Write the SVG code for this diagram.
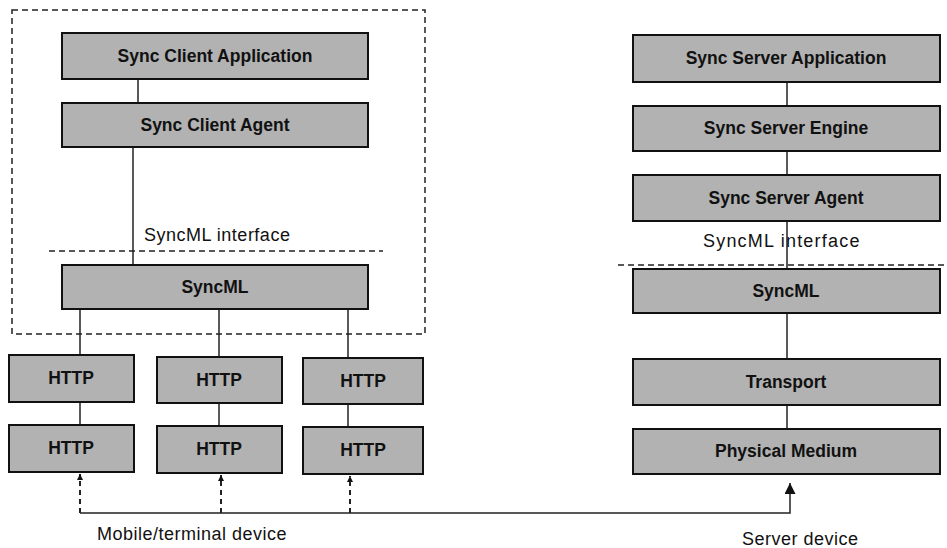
<svg xmlns="http://www.w3.org/2000/svg" width="947" height="548" viewBox="0 0 947 548">
<style>
.box{fill:#b2b2b2;stroke:#111;stroke-width:2}
.bt{font-family:"Liberation Sans",Arial,sans-serif;font-weight:bold;font-size:17.5px;fill:#111;text-anchor:middle}
.lt{font-family:"Liberation Sans",Arial,sans-serif;font-size:18px;fill:#111;letter-spacing:0.5px}
.ln{stroke:#222;stroke-width:1.5;fill:none}
.dash{stroke:#222;stroke-width:1.5;fill:none;stroke-dasharray:6 4}
.da{stroke:#222;stroke-width:2;fill:none;stroke-dasharray:5 4}
</style>
<defs>
<marker id="sa" viewBox="0 0 10 10" refX="10" refY="5" markerWidth="6" markerHeight="6" orient="auto" markerUnits="userSpaceOnUse"><path d="M0,0 L10,5 L0,10 z" fill="#111"/></marker>
<marker id="la" viewBox="0 0 10 10" refX="10" refY="5" markerWidth="11" markerHeight="11" orient="auto" markerUnits="userSpaceOnUse"><path d="M0,0 L10,5 L0,10 z" fill="#111"/></marker>
</defs>
<rect width="947" height="548" fill="#fff"/>
<rect x="12" y="10" width="413" height="324" class="dash"/>
<line x1="49" y1="251" x2="383" y2="251" class="dash"/>
<line x1="618" y1="265" x2="947" y2="265" class="dash"/>
<text class="lt" x="144" y="241">SyncML interface</text>
<text class="lt" x="703" y="247" style="letter-spacing:1.2px">SyncML interface</text>
<text class="lt" x="97" y="540">Mobile/terminal device</text>
<text class="lt" x="742" y="545">Server device</text>
<g id="connectors">
<line x1="138" y1="79" x2="138" y2="103" class="ln"/>
<line x1="133" y1="147" x2="133" y2="265" class="ln"/>
<line x1="80" y1="309" x2="80" y2="355" class="ln"/>
<line x1="219" y1="309" x2="219" y2="357" class="ln"/>
<line x1="348" y1="309" x2="348" y2="358" class="ln"/>
<line x1="80" y1="402" x2="80" y2="425" class="ln"/>
<line x1="219" y1="403" x2="219" y2="426" class="ln"/>
<line x1="348" y1="404" x2="348" y2="427" class="ln"/>
<line x1="787" y1="82" x2="787" y2="106" class="ln"/>
<line x1="787" y1="151" x2="787" y2="175" class="ln"/>
<line x1="787" y1="221" x2="787" y2="269" class="ln"/>
<line x1="787" y1="313" x2="787" y2="359" class="ln"/>
<line x1="787" y1="405" x2="787" y2="429" class="ln"/>
<polyline points="80,513 790,513 790,483" class="ln" marker-end="url(#la)"/>
<line x1="80" y1="513" x2="80" y2="474" class="da" marker-end="url(#sa)"/>
<line x1="221" y1="513" x2="221" y2="475" class="da" marker-end="url(#sa)"/>
<line x1="350" y1="513" x2="350" y2="476" class="da" marker-end="url(#sa)"/>
</g>
<g id="client-app"><rect class="box" x="62" y="33" width="306" height="46"/><text class="bt" x="215" y="62">Sync Client Application</text></g>
<g id="client-agent"><rect class="box" x="62" y="103" width="306" height="44"/><text class="bt" x="215" y="131">Sync Client Agent</text></g>
<g id="client-syncml"><rect class="box" x="62" y="265" width="306" height="44"/><text class="bt" x="215" y="293">SyncML</text></g>
<g id="http1a"><rect class="box" x="9" y="355" width="125" height="47"/><text class="bt" x="71" y="384">HTTP</text></g>
<g id="http2a"><rect class="box" x="157" y="357" width="125" height="46"/><text class="bt" x="219" y="386">HTTP</text></g>
<g id="http3a"><rect class="box" x="303" y="358" width="120" height="46"/><text class="bt" x="363" y="387">HTTP</text></g>
<g id="http1b"><rect class="box" x="9" y="425" width="125" height="47"/><text class="bt" x="71" y="454">HTTP</text></g>
<g id="http2b"><rect class="box" x="157" y="426" width="125" height="47"/><text class="bt" x="219" y="455">HTTP</text></g>
<g id="http3b"><rect class="box" x="303" y="427" width="120" height="47"/><text class="bt" x="363" y="456">HTTP</text></g>
<g id="server-app"><rect class="box" x="633" y="35" width="307" height="47"/><text class="bt" x="786" y="64">Sync Server Application</text></g>
<g id="server-engine"><rect class="box" x="633" y="106" width="307" height="45"/><text class="bt" x="786" y="134">Sync Server Engine</text></g>
<g id="server-agent"><rect class="box" x="633" y="175" width="307" height="46"/><text class="bt" x="786" y="204">Sync Server Agent</text></g>
<g id="server-syncml"><rect class="box" x="633" y="269" width="307" height="44"/><text class="bt" x="786" y="297">SyncML</text></g>
<g id="transport"><rect class="box" x="633" y="359" width="307" height="46"/><text class="bt" x="786" y="388">Transport</text></g>
<g id="physical"><rect class="box" x="633" y="429" width="307" height="45"/><text class="bt" x="786" y="457">Physical Medium</text></g>
</svg>
